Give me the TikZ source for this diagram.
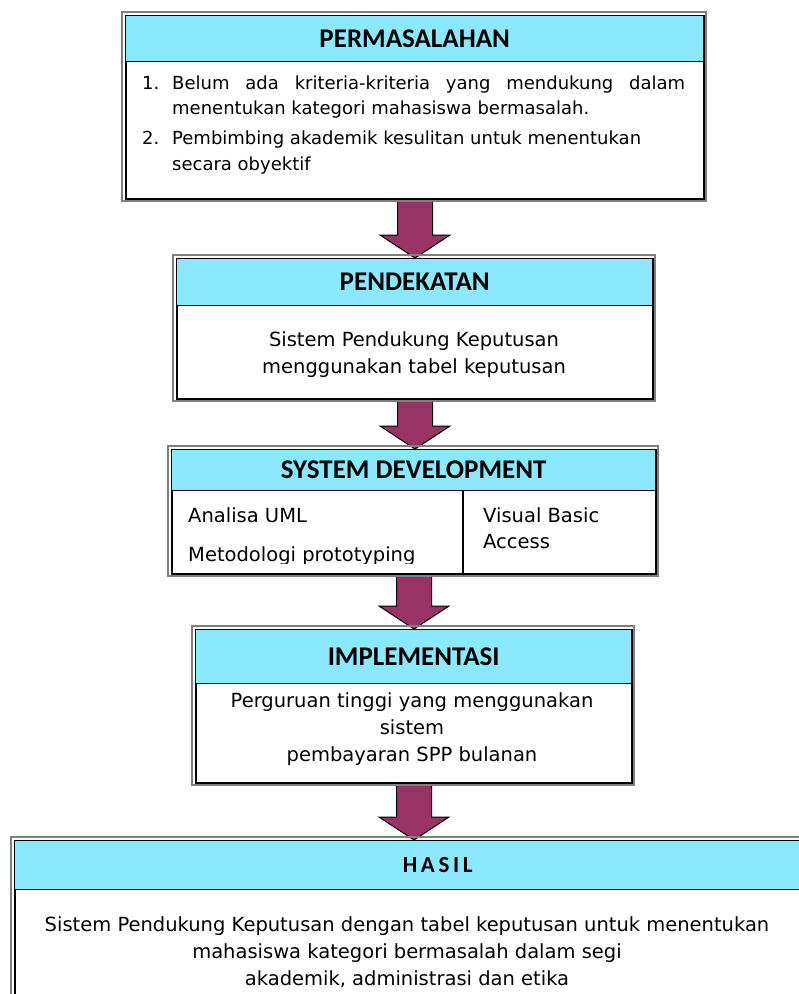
\documentclass[tikz,border=0pt]{standalone}
\usepackage{fontspec}
\setmainfont{DejaVu Sans}
\newfontfamily\headfont{Carlito}
\newfontfamily\spacedheadfont{Carlito}[LetterSpace=16]
\usetikzlibrary{calc}

\definecolor{headcyan}{RGB}{140,232,255}
\definecolor{plum}{RGB}{153,51,102}

\pgfdeclarelayer{arrows}
\pgfsetlayers{arrows,main}

\tikzset{
  frame/.style={draw=black, line width=2pt, fill=white, inner sep=0pt},
  outerline/.style={draw=black!50, line width=1.6pt},
  band/.style={draw=black, line width=1.4pt, fill=headcyan, inner sep=0pt,
    font=\headfont\bfseries\fontsize{27}{30}\selectfont},
  spacedband/.style={band, font=\spacedheadfont\bfseries\fontsize{23}{26}\selectfont},
  body/.style={inner sep=0pt, font=\fontsize{19.5}{27}\selectfont},
  listtext/.style={inner sep=0pt, font=\fontsize{18}{25}\selectfont, anchor=base west},
  blockarrow/.style={fill=plum, draw=black, line width=1pt, line join=miter},
}

% block arrow from the bottom of one box to the top of the next
\newcommand\flowarrow[2]{%
  \draw[blockarrow] let \p1=(#1.south), \p2=(#2.north) in
    (\x1-17.5pt,\y1) -- (\x1-17.5pt,\y2+23pt) -- (\x1-35pt,\y2+23pt) --
    (\x1,\y2) -- (\x1+35pt,\y2+23pt) -- (\x1+17.5pt,\y2+23pt) --
    (\x1+17.5pt,\y1) -- cycle;}

% a box with a grey outer line, a white body and a cyan title band
\newcommand\flowbox[8][band]{% band style, name, x, y, width, height, band height, title
  \draw[outerline] (#3-3,#4-3) rectangle (#3+#5+3,#4+#6+3);
  \node[frame, minimum width=#5pt, minimum height=#6pt, anchor=north west] (#2) at (#3,#4) {};
  \node[#1, minimum width=#5pt, minimum height=#7pt, anchor=north west] (#2h) at (#3,#4) {#8};}

\begin{document}
\begin{tikzpicture}[x=1pt,y=-1pt]
\useasboundingbox (0,0) rectangle (799,994);
\clip (0,0) rectangle (799,994);

% the five stages
\flowbox{b1}{125}{15}{578}{183}{46}{PERMASALAHAN}
\flowbox{b2}{176}{258}{476}{140}{47}{PENDEKATAN}
\flowbox{b3}{171}{449}{484}{124}{41}{SYSTEM DEVELOPMENT}
\flowbox{b4}{195}{629}{436}{153}{54}{IMPLEMENTASI}
\flowbox[spacedband]{b5}{14}{840}{846}{200}{49}{HASIL}

% arrows between the stages, kept behind the box outlines
\begin{pgfonlayer}{arrows}
\flowarrow{b1}{b2}
\flowarrow{b2}{b3}
\flowarrow{b3}{b4}
\flowarrow{b4}{b5}
\end{pgfonlayer}

% problem list
\node[listtext] (n1) at (142,89) {1.};
\node[listtext] (l1) at (172,89) {\hbox to 513pt{Belum\hfill ada\hfill kriteria-kriteria\hfill yang\hfill mendukung\hfill dalam}};
\node[listtext] (l2) at (172,114) {menentukan kategori mahasiswa bermasalah.};
\node[listtext] (n2) at (142,144) {2.};
\node[listtext] (l3) at (172,144) {Pembimbing akademik kesulitan untuk menentukan};
\node[listtext] (l4) at (172,170) {secara obyektif};

% approach
\node[body, anchor=base] (p1) at (414,346) {Sistem Pendukung Keputusan};
\node[body, anchor=base] (p2) at (414,373) {menggunakan tabel keputusan};

% system development, two cells
\draw[line width=1.2pt] (463,490) -- (463,573);
\begin{scope}
  \clip (172,490) rectangle (462,563);
  \node[body, anchor=base west] (s1) at (188,522) {Analisa UML};
  \node[body, anchor=base west] (s2) at (188,561) {Metodologi prototyping};
\end{scope}
\node[body, anchor=base west] (s3) at (483,522) {Visual Basic};
\node[body, anchor=base west] (s4) at (483,548) {Access};

% implementation
\node[body, anchor=base] (i1) at (412,707) {Perguruan tinggi yang menggunakan};
\node[body, anchor=base] (i2) at (412,734) {sistem};
\node[body, anchor=base] (i3) at (412,761) {pembayaran SPP bulanan};

% result
\node[body, anchor=base] (r1) at (407,931) {Sistem Pendukung Keputusan dengan tabel keputusan untuk menentukan};
\node[body, anchor=base] (r2) at (407,958) {mahasiswa kategori bermasalah dalam segi};
\node[body, anchor=base] (r3) at (407,985) {akademik, administrasi dan etika};
\end{tikzpicture}
\end{document}
